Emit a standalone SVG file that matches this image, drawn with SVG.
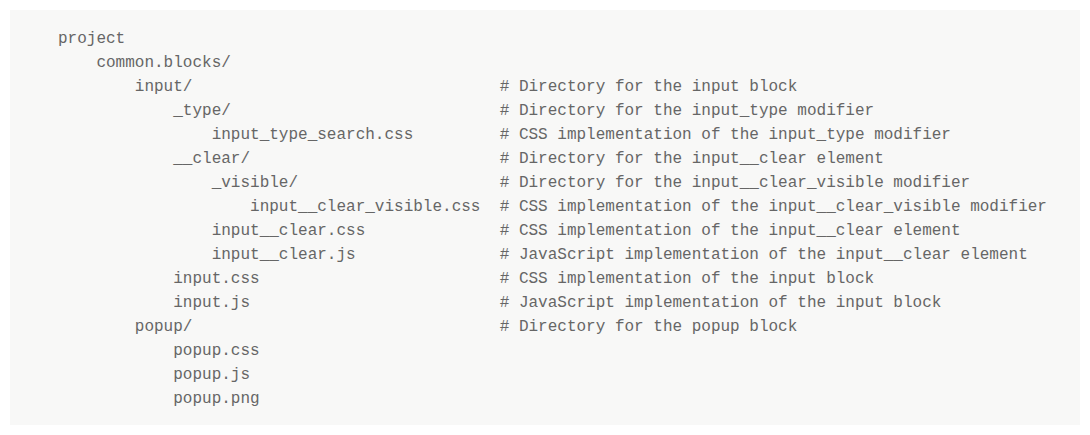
<svg xmlns="http://www.w3.org/2000/svg" width="1090" height="435" viewBox="0 0 1090 435">
<style>text{font-family:"Liberation Mono","Courier New",monospace;font-size:16px;fill:#666;white-space:pre}</style>
<rect width="1090" height="435" fill="#fff"/>
<rect x="10" y="10" width="1070" height="415" fill="#f8f8f7"/>
<g id="tree" xml:space="preserve">
<text x="58" y="43">project</text>
<text x="58" y="67">    common.blocks/</text>
<text x="58" y="91">        input/                                # Directory for the input block</text>
<text x="58" y="115">            _type/                            # Directory for the input_type modifier</text>
<text x="58" y="139">                input_type_search.css         # CSS implementation of the input_type modifier</text>
<text x="58" y="163">            __clear/                          # Directory for the input__clear element</text>
<text x="58" y="187">                _visible/                     # Directory for the input__clear_visible modifier</text>
<text x="58" y="211">                    input__clear_visible.css  # CSS implementation of the input__clear_visible modifier</text>
<text x="58" y="235">                input__clear.css              # CSS implementation of the input__clear element</text>
<text x="58" y="259">                input__clear.js               # JavaScript implementation of the input__clear element</text>
<text x="58" y="283">            input.css                         # CSS implementation of the input block</text>
<text x="58" y="307">            input.js                          # JavaScript implementation of the input block</text>
<text x="58" y="331">        popup/                                # Directory for the popup block</text>
<text x="58" y="355">            popup.css</text>
<text x="58" y="379">            popup.js</text>
<text x="58" y="403">            popup.png</text>
</g>
</svg>
